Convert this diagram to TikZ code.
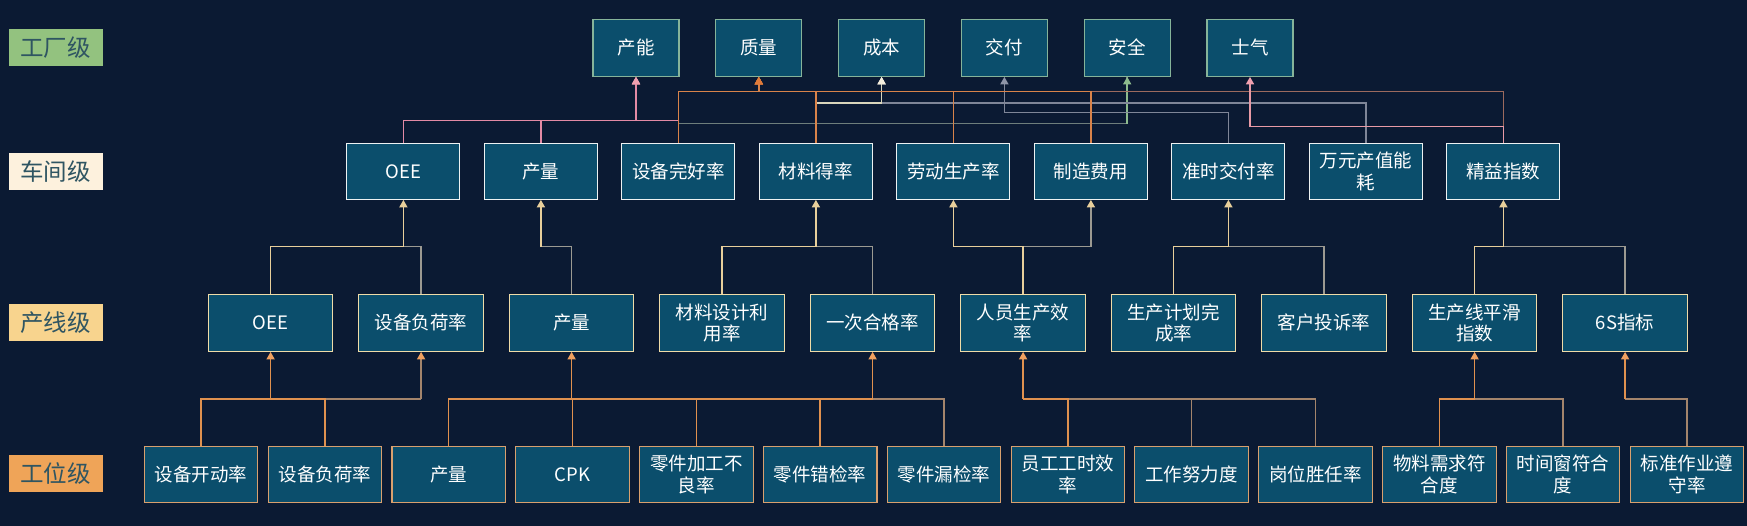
\documentclass[tikz,border=0pt]{standalone}
\usepackage{fontspec}
\setmainfont{Noto Sans CJK SC}
\usetikzlibrary{arrows.meta}
\definecolor{bg}{HTML}{0B1A33}
\definecolor{boxfill}{HTML}{0B4E6C}
\definecolor{facborder}{HTML}{86B49A}
\definecolor{wsborder}{HTML}{EEF2F2}
\definecolor{lnborder}{HTML}{F0DCA8}
\definecolor{stborder}{HTML}{D9A06E}
\definecolor{lvltext}{HTML}{2F5562}
\definecolor{lvlA}{HTML}{93C27F}
\definecolor{lvlB}{HTML}{FDF1DD}
\definecolor{lvlC}{HTML}{F8D48E}
\definecolor{lvlD}{HTML}{EFA458}
\definecolor{pinkc}{HTML}{E38AA5}
\definecolor{pinkarr}{HTML}{F0A0B0}
\definecolor{orangec}{HTML}{D9834A}
\definecolor{orangearr}{HTML}{E07B3A}
\definecolor{brownc}{HTML}{9C6A5E}
\definecolor{creamc}{HTML}{D9D5BC}
\definecolor{creamarr}{HTML}{F5EEDD}
\definecolor{greyc}{HTML}{7F8698}
\definecolor{greyarr}{HTML}{8E95A8}
\definecolor{greygreen}{HTML}{6E7E7C}
\definecolor{greenarr}{HTML}{8DBB8E}
\definecolor{pinktwo}{HTML}{E89AA6}
\definecolor{midc}{HTML}{E8CF9B}
\definecolor{midgrey}{HTML}{9C9A92}
\definecolor{lowc}{HTML}{E0914F}
\definecolor{lowarr}{HTML}{F0A060}
\definecolor{lowtan}{HTML}{A4856C}
\tikzset{
  box/.style={draw, line width=1.1pt, fill=boxfill, text=white, inner sep=0pt,
    align=center, font=\fontsize{18.5}{21.5}\selectfont},
  facbox/.style={box, draw=facborder, minimum width=86pt, minimum height=57pt},
  wsbox/.style={box, draw=wsborder, minimum width=113pt, minimum height=56pt},
  lnbox/.style={box, draw=lnborder, minimum width=124.5pt, minimum height=57pt},
  stbox/.style={box, draw=stborder, minimum width=113.5pt, minimum height=55.6pt},
  lvl/.style={inner sep=0pt, minimum width=94pt, minimum height=37pt, text=lvltext,
    font=\fontsize{23.5}{26}\selectfont},
  conn/.style={line width=1.5pt},
  tip/.style={-{Triangle[width=8pt,length=7.5pt,color=#1]}},
}
\begin{document}
\begin{tikzpicture}[x=1pt,y=-1pt]
\fill[bg] (0,0) rectangle (1747,526);
\useasboundingbox (0,0) rectangle (1747,526);

% level labels
\node[lvl, fill=lvlA] (lvA) at (55.5,47.5) {工厂级};
\node[lvl, fill=lvlB] (lvB) at (55.5,171.7) {车间级};
\node[lvl, fill=lvlC] (lvC) at (55.5,322.9) {产线级};
\node[lvl, fill=lvlD] (lvD) at (55.5,473.9) {工位级};

% factory level
\node[facbox] (f1) at (636,47.8) {产能};
\node[facbox] (f2) at (758.8,47.8) {质量};
\node[facbox] (f3) at (881.6,47.8) {成本};
\node[facbox] (f4) at (1004.4,47.8) {交付};
\node[facbox] (f5) at (1127.2,47.8) {安全};
\node[facbox] (f6) at (1250,47.8) {士气};

% workshop level
\node[wsbox] (ws1) at (403.4,171.3) {OEE};
\node[wsbox] (ws2) at (540.9,171.3) {产量};
\node[wsbox] (ws3) at (678.4,171.3) {设备完好率};
\node[wsbox] (ws4) at (815.9,171.3) {材料得率};
\node[wsbox] (ws5) at (953.4,171.3) {劳动生产率};
\node[wsbox] (ws6) at (1090.9,171.3) {制造费用};
\node[wsbox] (ws7) at (1228.4,171.3) {准时交付率};
\node[wsbox] (ws8) at (1365.9,171.3) {万元产值能\\耗};
\node[wsbox] (ws9) at (1503.4,171.3) {精益指数};

% line level
\node[lnbox] (ln1) at (270.6,322.8) {OEE};
\node[lnbox] (ln2) at (421.1,322.8) {设备负荷率};
\node[lnbox] (ln3) at (571.6,322.8) {产量};
\node[lnbox] (ln4) at (722.1,322.8) {材料设计利\\用率};
\node[lnbox] (ln5) at (872.6,322.8) {一次合格率};
\node[lnbox] (ln6) at (1023.1,322.8) {人员生产效\\率};
\node[lnbox] (ln7) at (1173.6,322.8) {生产计划完\\成率};
\node[lnbox] (ln8) at (1324.1,322.8) {客户投诉率};
\node[lnbox] (ln9) at (1474.6,322.8) {生产线平滑\\指数};
\node[lnbox] (ln10) at (1625.1,322.8) {6S指标};

% station level
\node[stbox] (st1) at (201,474.5) {设备开动率};
\node[stbox] (st2) at (324.8,474.5) {设备负荷率};
\node[stbox] (st3) at (448.7,474.5) {产量};
\node[stbox] (st4) at (572.5,474.5) {CPK};
\node[stbox] (st5) at (696.3,474.5) {零件加工不\\良率};
\node[stbox] (st6) at (820.2,474.5) {零件错检率};
\node[stbox] (st7) at (944,474.5) {零件漏检率};
\node[stbox] (st8) at (1067.8,474.5) {员工工时效\\率};
\node[stbox] (st9) at (1191.6,474.5) {工作努力度};
\node[stbox] (st10) at (1315.5,474.5) {岗位胜任率};
\node[stbox] (st11) at (1439.3,474.5) {物料需求符\\合度};
\node[stbox] (st12) at (1563.1,474.5) {时间窗符合\\度};
\node[stbox] (st13) at (1687,474.5) {标准作业遵\\守率};

% routing levels
\coordinate (yQ) at (0,91.7);
\coordinate (yC) at (0,103);
\coordinate (yD) at (0,112.7);
\coordinate (yP) at (0,120.7);
\coordinate (yS) at (0,123.7);
\coordinate (yM) at (0,126.7);
\coordinate (yL) at (0,246.7);
\coordinate (yB) at (0,399);

% ---- workshop -> factory ----
\draw[conn, greygreen] (ws3.north) -- (ws3.north |- yS) -| (f5.south);
\coordinate (jS) at (f5.south |- yS);
\draw[conn, greenarr, tip=greenarr] (jS) -- (f5.south);

\draw[conn, pinkc, tip=pinkarr] (ws1.north) -- (ws1.north |- yP) -| (f1.south);
\draw[conn, pinkc, tip=pinkarr] (ws2.north) -- (ws2.north |- yP) -| (f1.south);
\draw[conn, pinkc, tip=pinkarr] (ws3.north) -- (ws3.north |- yP) -| (f1.south);

\draw[conn, greyc, tip=greyarr] (ws7.north) -- (ws7.north |- yD) -| (f4.south);

\draw[conn, greyc, tip=creamarr] (ws8.north) -- (ws8.north |- yC) -| (f3.south);
\draw[conn, creamc, tip=creamarr] (ws4.north) -- (ws4.north |- yC) -| (f3.south);

\draw[conn, brownc, tip=orangearr] (ws9.north) -- (ws9.north |- yQ) -| (f2.south);
\draw[conn, orangec, tip=orangearr] (ws6.north) -- (ws6.north |- yQ) -| (f2.south);
\draw[conn, orangec, tip=orangearr] (ws5.north) -- (ws5.north |- yQ) -| (f2.south);
\draw[conn, orangec, tip=orangearr] (ws4.north) -- (ws4.north |- yQ) -| (f2.south);
\draw[conn, orangec, tip=orangearr] (ws3.north) -- (ws3.north |- yQ) -| (f2.south);

\draw[conn, pinktwo, tip=pinkarr] (ws9.north) -- (ws9.north |- yM) -| (f6.south);

% ---- line -> workshop ----
\coordinate (j1) at (ws1.south |- yL);
\coordinate (j2) at (ws2.south |- yL);
\coordinate (j4) at (ws4.south |- yL);
\coordinate (j5) at (ws5.south |- yL);
\coordinate (j6) at (ws6.south |- yL);
\coordinate (j7) at (ws7.south |- yL);
\coordinate (j9) at (ws9.south |- yL);

\draw[conn, midgrey] (ln2.north) |- (j1);
\draw[conn, midc] (ln1.north) |- (j1);
\draw[conn, midc, tip=midc] (j1) -- (ws1.south);

\draw[conn, midgrey] (ln3.north) |- (j2);
\draw[conn, midc, tip=midc] (j2) -- (ws2.south);

\draw[conn, midgrey] (ln5.north) |- (j4);
\draw[conn, midc] (ln4.north) |- (j4);
\draw[conn, midc, tip=midc] (j4) -- (ws4.south);

\draw[conn, midgrey] (ln6.north) |- (j6);
\draw[conn, midgrey, tip=midc] (j6) -- (ws6.south);
\draw[conn, midc] (ln6.north) |- (j5);
\draw[conn, midc, tip=midc] (j5) -- (ws5.south);

\draw[conn, midgrey] (ln8.north) |- (j7);
\draw[conn, midc] (ln7.north) |- (j7);
\draw[conn, midc, tip=midc] (j7) -- (ws7.south);

\draw[conn, midgrey] (ln10.north) |- (j9);
\draw[conn, midc] (ln9.north) |- (j9);
\draw[conn, midc, tip=midc] (j9) -- (ws9.south);

% ---- station -> line ----
\coordinate (k1) at (ln1.south |- yB);
\coordinate (k2) at (ln2.south |- yB);
\coordinate (k3) at (ln3.south |- yB);
\coordinate (k5) at (ln5.south |- yB);
\coordinate (k6) at (ln6.south |- yB);
\coordinate (k9) at (ln9.south |- yB);
\coordinate (k10) at (ln10.south |- yB);

\draw[conn, lowtan] (st2.north) |- (k2);
\draw[conn, lowtan, tip=lowarr] (k2) -- (ln2.south);
\draw[conn, lowc] (st1.north) |- (k1);
\draw[conn, lowc] (st2.north) |- (k1);
\draw[conn, lowc, tip=lowarr] (k1) -- (ln1.south);

\draw[conn, lowc] (st3.north) |- (k3);
\draw[conn, lowc] (st4.north) |- (k3);
\draw[conn, lowc, tip=lowarr] (k3) -- (ln3.south);

\draw[conn, lowtan] (st7.north) |- (k5);
\draw[conn, lowc] (st4.north) |- (k5);
\draw[conn, lowc] (st5.north) |- (k5);
\draw[conn, lowc] (st6.north) |- (k5);
\draw[conn, lowc, tip=lowarr] (k5) -- (ln5.south);

\draw[conn, lowtan] (st10.north) |- (k6);
\draw[conn, lowtan] (st9.north) |- (k6);
\draw[conn, lowc] (st8.north) |- (k6);
\draw[conn, lowc, tip=lowarr] (k6) -- (ln6.south);

\draw[conn, lowtan] (st12.north) |- (k9);
\draw[conn, lowc] (st11.north) |- (k9);
\draw[conn, lowc, tip=lowarr] (k9) -- (ln9.south);

\draw[conn, lowtan] (st13.north) |- (k10);
\draw[conn, lowc, tip=lowarr] (k10) -- (ln10.south);
\end{tikzpicture}
\end{document}
